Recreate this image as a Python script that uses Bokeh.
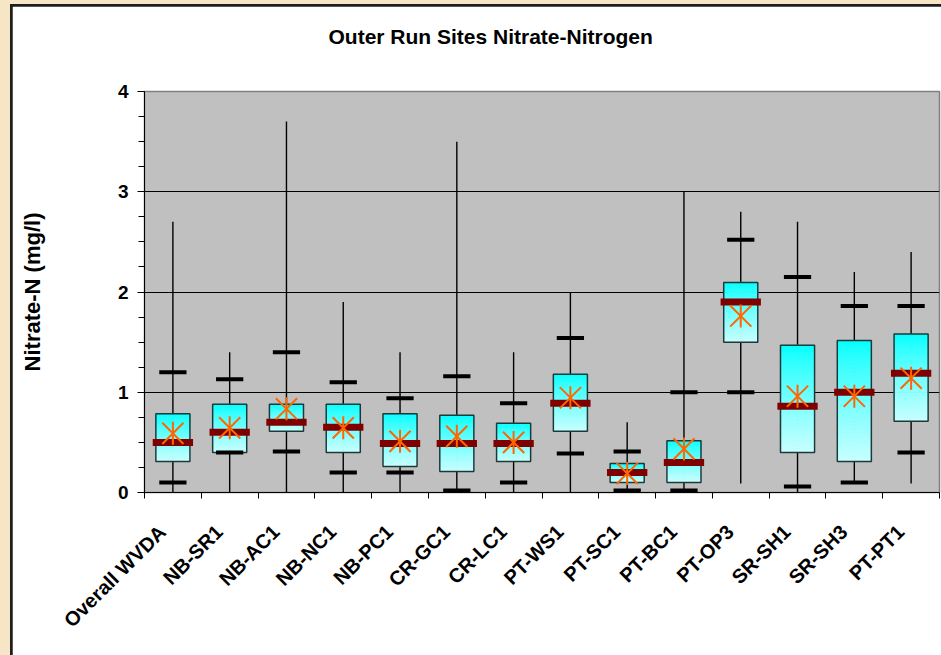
import math
import numpy as np
from bokeh.plotting import figure
from bokeh.layouts import column
from bokeh.models import FixedTicker, SingleIntervalTicker, Range1d, CustomJSTickFormatter, Title
from bokeh.embed import file_html
from bokeh.resources import INLINE

# ---- data ----
sites = ["Overall WVDA", "NB-SR1", "NB-AC1", "NB-NC1", "NB-PC1", "CR-GC1", "CR-LC1",
         "PT-WS1", "PT-SC1", "PT-BC1", "PT-OP3", "SR-SH1", "SR-SH3", "PT-PT1"]
minimum = [0.0, 0.0, 0.0, 0.0, 0.0, 0.0, 0.0, 0.0, 0.0, 0.0, 0.09, 0.0, 0.1, 0.09]
maximum = [2.7, 1.4, 3.7, 1.9, 1.4, 3.5, 1.4, 2.0, 0.7, 3.0, 2.8, 2.7, 2.2, 2.4]
pct10 = [0.1, 0.4, 0.41, 0.2, 0.2, 0.02, 0.1, 0.39, 0.02, 0.02, 1.0, 0.06, 0.1, 0.4]
pct90 = [1.2, 1.13, 1.4, 1.1, 0.94, 1.16, 0.89, 1.54, 0.41, 1.0, 2.52, 2.15, 1.86, 1.86]
q1 = [0.31, 0.4, 0.61, 0.4, 0.26, 0.21, 0.31, 0.61, 0.1, 0.1, 1.5, 0.4, 0.31, 0.71]
q3 = [0.785, 0.88, 0.88, 0.88, 0.785, 0.77, 0.69, 1.18, 0.29, 0.515, 2.095, 1.47, 1.515, 1.58]
median = [0.5, 0.6, 0.7, 0.65, 0.49, 0.49, 0.49, 0.89, 0.2, 0.3, 1.9, 0.86, 1.0, 1.19]
mean = [0.59, 0.645, 0.835, 0.645, 0.51, 0.56, 0.5, 0.945, 0.19, 0.435, 1.76, 0.96, 0.96, 1.14]

title_text = "Outer Run Sites Nitrate-Nitrogen"
y_label = "Nitrate-N (mg/l)"

FONT = "Liberation Sans"
LABEL_SHIFT = 0.185  # rotated labels end a little left of the category centre

xs = np.arange(len(sites))

p = figure(width=929, height=649, output_backend="svg", toolbar_location=None,
           x_range=Range1d(-0.5, len(sites) - 0.5), y_range=Range1d(0, 4),
           min_border_left=132, min_border_right=2, min_border_top=85, min_border_bottom=163,
           background_fill_color="#C0C0C0", border_fill_color="#FFFFFF",
           outline_line_color="#808080", outline_line_width=1.5)
p.margin = (2, 0, 0, 2)

# empty spacer between the frame and the title
p.add_layout(Title(text=" ", text_font_size="18px", standoff=22), "above")

# title
p.title.text = title_text
p.title.align = "left"
p.title.offset = 184
p.title.standoff = 0
p.title.text_font = FONT
p.title.text_font_style = "bold"
p.title.text_font_size = "21px"
p.title.text_color = "#000000"

# y axis
p.yaxis.ticker = SingleIntervalTicker(interval=1, num_minor_ticks=4)
p.yaxis.axis_label = y_label
p.yaxis.axis_label_text_font = FONT
p.yaxis.axis_label_text_font_style = "bold"
p.yaxis.axis_label_text_font_size = "22px"
p.yaxis.axis_label_text_color = "#000000"
p.yaxis.axis_label_standoff = 70
p.yaxis.major_label_text_font = FONT
p.yaxis.major_label_text_font_style = "bold"
p.yaxis.major_label_text_font_size = "19px"
p.yaxis.major_label_text_color = "#000000"
p.yaxis.major_label_standoff = 9
p.yaxis.major_tick_out = 7
p.yaxis.major_tick_in = 0
p.yaxis.minor_tick_out = 6
p.yaxis.minor_tick_in = 0
p.yaxis.axis_line_color = "#000000"
p.yaxis.major_tick_line_color = "#000000"
p.yaxis.minor_tick_line_color = "#000000"

# x axis: labels near the centres, ticks at the category boundaries
p.xaxis.ticker = FixedTicker(ticks=[float(v) - LABEL_SHIFT for v in xs],
                             minor_ticks=[float(v) - 0.5 for v in range(len(sites) + 1)])
p.xaxis.formatter = CustomJSTickFormatter(
    args=dict(names=sites, shift=LABEL_SHIFT),
    code="const i = Math.round(tick + shift); return (i >= 0 && i < names.length) ? names[i] : '';")
p.xaxis.major_label_orientation = math.pi / 4
p.xaxis.major_label_text_font = FONT
p.xaxis.major_label_text_font_style = "bold"
p.xaxis.major_label_text_font_size = "20px"
p.xaxis.major_label_text_color = "#000000"
p.xaxis.major_label_standoff = 30
p.xaxis.major_tick_out = 0
p.xaxis.major_tick_in = 0
p.xaxis.minor_tick_out = 6
p.xaxis.minor_tick_in = 0
p.xaxis.axis_line_color = "#000000"
p.xaxis.minor_tick_line_color = "#000000"

# grid
p.xgrid.visible = False
p.ygrid.ticker = FixedTicker(ticks=[1, 2, 3])
p.ygrid.grid_line_color = "#000000"
p.ygrid.grid_line_width = 1

# whiskers (behind boxes)
p.segment(x0=xs, y0=minimum, x1=xs, y1=maximum, line_color="#000000", line_width=1.4)

# gradient boxes (cyan at top to pale cyan at bottom)
N = 30
q1a = np.array(q1)
q3a = np.array(q3)
k = np.arange(N)
tops = (q3a[:, None] - (q3a - q1a)[:, None] * k[None, :] / N).ravel()
bots = (q3a[:, None] - (q3a - q1a)[:, None] * (k[None, :] + 1) / N).ravel()
t = (k + 0.5) / N
reds = (200 * t ** 0.8).astype(int)
cols = ["#%02x%02x%02x" % (r, 255, 255) for r in reds]
colors = cols * len(sites)
xx = np.repeat(xs, N)
bw = 0.3
p.quad(left=xx - bw, right=xx + bw, bottom=bots, top=tops, fill_color=colors,
       line_color=colors, line_width=0.8)
p.quad(left=xs - bw, right=xs + bw, bottom=q1, top=q3, fill_alpha=0,
       line_color="#1E3838", line_width=1.5)

# 10th / 90th percentile dashes
p.rect(x=xs, y=pct10, width=0.48, height=4, height_units="screen",
       fill_color="#000000", line_color=None)
p.rect(x=xs, y=pct90, width=0.48, height=4, height_units="screen",
       fill_color="#000000", line_color=None)

# median bars
p.rect(x=xs, y=median, width=0.71, height=7, height_units="screen",
       fill_color="#800000", line_color=None)

# mean markers (star: x plus vertical stroke)
p.scatter(x=xs, y=mean, marker="x", size=30, line_color="#FF6600", line_width=2)
p.scatter(x=xs, y=mean, marker="dash", size=23, angle=math.pi / 2,
          line_color="#FF6600", line_width=2)

# chart-area frame on a beige page background
inner = column(p, styles={"background-color": "#1E1E1E"})
inner.margin = (4, 0, 0, 10)
root = column(inner, styles={"background-color": "#F7E6C6"})

open("out.html", "w").write(file_html(root, INLINE))
